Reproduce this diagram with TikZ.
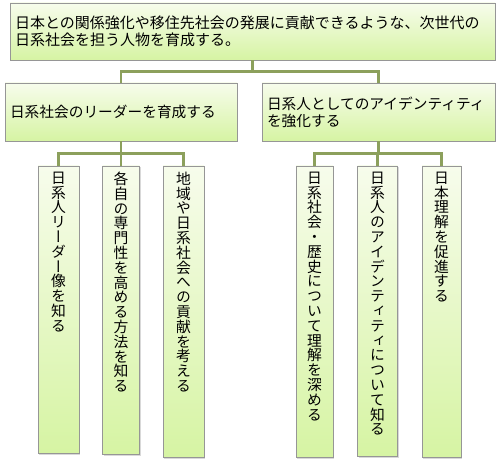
\documentclass[tikz,border=0pt]{standalone}
\usepackage{fontspec}
\newfontfamily\jpfont{Noto Sans CJK JP}
\newfontfamily\jpvfont[RawFeature=+vert]{Noto Sans CJK JP}
\usetikzlibrary{positioning,shadows}
\definecolor{boxtop}{RGB}{247,252,236}
\definecolor{boxbot}{RGB}{214,244,163}
\definecolor{boxline}{RGB}{150,150,150}
\definecolor{linkgreen}{RGB}{140,160,92}
\ExplSyntaxOn
\cs_new_protected:Npn \tatechars #1
	{ \tl_map_inline:nn {#1} { \hbox_to_wd:nn {14.8pt} { \hss ##1 \hss } } }
\ExplSyntaxOff
\newcommand\tate[1]{\vbox{\jpvfont\fontsize{14.8}{14.8}\selectfont\lineskiplimit=-\maxdimen\tatechars{#1}}}

\begin{document}
\begin{tikzpicture}[x=1pt,y=-1pt,
	box/.style={draw=boxline,line width=0.6pt,top color=boxtop,bottom color=boxbot,
		drop shadow={shadow xshift=1.2pt,shadow yshift=-1.5pt,opacity=0.3},
		inner xsep=5pt,inner ysep=0pt,align=left,font=\jpfont\fontsize{14.7}{17}\selectfont},
	tatetext/.style={inner sep=0pt},
	link/.style={draw=linkgreen,line width=2.5pt}]
		\useasboundingbox (0,0) rectangle (500,465);
		
		\node[box,text width=475pt,minimum height=57pt,font=\jpfont\fontsize{15}{17}\selectfont] (goal) at (252.5,31.5)
		{日本との関係強化や移住先社会の発展に貢献できるような、次世代の\\日系社会を担う人物を育成する。};
		
		\node[box,text width=222pt,minimum height=58pt] (leader) at (121,112) {日系社会のリーダーを育成する};
		\node[box,text width=223pt,minimum height=58pt] (identity) at (378.5,112) {日系人としてのアイデンティティ\\を強化する};
		
		\node[box,minimum width=41pt,minimum height=287pt] (l1) at (58.5,309.5) {};
		\node[box,minimum width=37pt,minimum height=288pt] (l2) at (121,310) {};
		\node[box,minimum width=41pt,minimum height=291pt] (l3) at (183.5,311.5) {};
		\node[box,minimum width=37pt,minimum height=291pt] (r1) at (314.5,311.5) {};
		\node[box,minimum width=40pt,minimum height=290pt] (r2) at (377.5,311) {};
		\node[box,minimum width=39pt,minimum height=291pt] (r3) at (441.5,311.5) {};
		
		\node[tatetext,below=6pt of l1.north] (l1t) {\tate{日系人リーダー像を知る}};
		\node[tatetext,below=6pt of l2.north] (l2t) {\tate{各自の専門性を高める方法を知る}};
		\node[tatetext,below=6pt of l3.north] (l3t) {\tate{地域や日系社会への貢献を考える}};
		\node[tatetext,below=6pt of r1.north] (r1t) {\tate{日系社会・歴史について理解を深める}};
		\node[tatetext,below=6pt of r2.north] (r2t) {\tate{日系人のアイデンティティについて知る}};
		\node[tatetext,below=6pt of r3.north] (r3t) {\tate{日本理解を促進する}};
		
		\draw[link] (goal.south) -- ++(0,11) -| (leader.north);
		\draw[link] (goal.south) -- ++(0,11) -| (identity.north);
		
		\draw[link] (leader.south) -- ++(0,12) -| (l1.north);
		\draw[link] (leader.south) -- ++(0,12) -| (l2.north);
		\draw[link] (leader.south) -- ++(0,12) -| (l3.north);
		
		\draw[link] (identity.south) -- ++(0,12) -| (r1.north);
		\draw[link] (identity.south) -- ++(0,12) -| (r2.north);
		\draw[link] (identity.south) -- ++(0,12) -| (r3.north);
		\end{tikzpicture}
\end{document}
